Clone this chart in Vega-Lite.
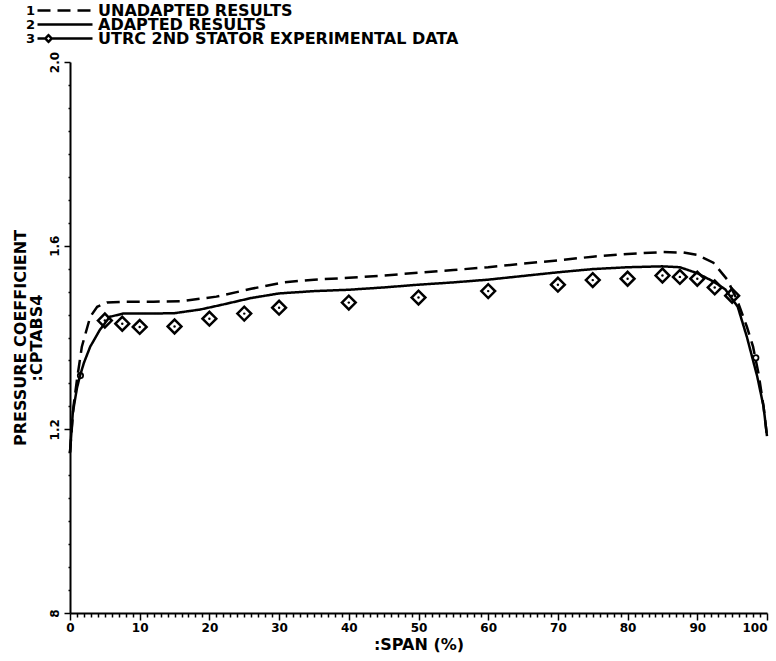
{
  "$schema": "https://vega.github.io/schema/vega-lite/v6.json",
  "width": 697,
  "height": 551,
  "autosize": "none",
  "padding": {"left": 70, "top": 62, "right": 9, "bottom": 48},
  "background": "white",
  "config": {
    "view": {"stroke": null},
    "font": "DejaVu Sans",
    "axis": {"grid": false, "domainColor": "black", "domainWidth": 2, "tickColor": "black", "tickWidth": 1.5, "labelColor": "black", "titleColor": "black", "labelFont": "DejaVu Sans", "titleFont": "DejaVu Sans", "labelFontWeight": "bold", "titleFontWeight": "bold"}
  },
  "data": {
    "values": [
      {"series": "ADAPTED RESULTS", "span": 0, "cp": 1.15},
      {"series": "ADAPTED RESULTS", "span": 0.4, "cp": 1.236},
      {"series": "ADAPTED RESULTS", "span": 1.0, "cp": 1.29},
      {"series": "ADAPTED RESULTS", "span": 1.4, "cp": 1.315},
      {"series": "ADAPTED RESULTS", "span": 2.0, "cp": 1.345},
      {"series": "ADAPTED RESULTS", "span": 2.9, "cp": 1.38},
      {"series": "ADAPTED RESULTS", "span": 4.3, "cp": 1.417},
      {"series": "ADAPTED RESULTS", "span": 5.7, "cp": 1.445},
      {"series": "ADAPTED RESULTS", "span": 7.6, "cp": 1.452},
      {"series": "ADAPTED RESULTS", "span": 11.5, "cp": 1.452},
      {"series": "ADAPTED RESULTS", "span": 15, "cp": 1.453},
      {"series": "ADAPTED RESULTS", "span": 18.7, "cp": 1.461},
      {"series": "ADAPTED RESULTS", "span": 22, "cp": 1.472},
      {"series": "ADAPTED RESULTS", "span": 26, "cp": 1.486},
      {"series": "ADAPTED RESULTS", "span": 30, "cp": 1.496},
      {"series": "ADAPTED RESULTS", "span": 35, "cp": 1.501},
      {"series": "ADAPTED RESULTS", "span": 40, "cp": 1.504},
      {"series": "ADAPTED RESULTS", "span": 45, "cp": 1.509},
      {"series": "ADAPTED RESULTS", "span": 50, "cp": 1.515},
      {"series": "ADAPTED RESULTS", "span": 55, "cp": 1.52},
      {"series": "ADAPTED RESULTS", "span": 60, "cp": 1.526},
      {"series": "ADAPTED RESULTS", "span": 65, "cp": 1.534},
      {"series": "ADAPTED RESULTS", "span": 70, "cp": 1.542},
      {"series": "ADAPTED RESULTS", "span": 75, "cp": 1.549},
      {"series": "ADAPTED RESULTS", "span": 80, "cp": 1.553},
      {"series": "ADAPTED RESULTS", "span": 85, "cp": 1.555},
      {"series": "ADAPTED RESULTS", "span": 87.5, "cp": 1.553},
      {"series": "ADAPTED RESULTS", "span": 90, "cp": 1.54},
      {"series": "ADAPTED RESULTS", "span": 92.3, "cp": 1.522},
      {"series": "ADAPTED RESULTS", "span": 94, "cp": 1.505},
      {"series": "ADAPTED RESULTS", "span": 95.8, "cp": 1.467},
      {"series": "ADAPTED RESULTS", "span": 97.1, "cp": 1.402},
      {"series": "ADAPTED RESULTS", "span": 98.6, "cp": 1.315},
      {"series": "ADAPTED RESULTS", "span": 99.5, "cp": 1.25},
      {"series": "ADAPTED RESULTS", "span": 100, "cp": 1.185},
      {"series": "UNADAPTED RESULTS", "span": 0, "cp": 1.15},
      {"series": "UNADAPTED RESULTS", "span": 0.5, "cp": 1.25},
      {"series": "UNADAPTED RESULTS", "span": 1.0, "cp": 1.308},
      {"series": "UNADAPTED RESULTS", "span": 1.7, "cp": 1.38},
      {"series": "UNADAPTED RESULTS", "span": 2.9, "cp": 1.445},
      {"series": "UNADAPTED RESULTS", "span": 3.9, "cp": 1.467},
      {"series": "UNADAPTED RESULTS", "span": 5.3, "cp": 1.476},
      {"series": "UNADAPTED RESULTS", "span": 8, "cp": 1.478},
      {"series": "UNADAPTED RESULTS", "span": 12, "cp": 1.478},
      {"series": "UNADAPTED RESULTS", "span": 16, "cp": 1.479},
      {"series": "UNADAPTED RESULTS", "span": 21, "cp": 1.489},
      {"series": "UNADAPTED RESULTS", "span": 26, "cp": 1.506},
      {"series": "UNADAPTED RESULTS", "span": 30.6, "cp": 1.52},
      {"series": "UNADAPTED RESULTS", "span": 35, "cp": 1.526},
      {"series": "UNADAPTED RESULTS", "span": 40, "cp": 1.53},
      {"series": "UNADAPTED RESULTS", "span": 45, "cp": 1.535},
      {"series": "UNADAPTED RESULTS", "span": 50, "cp": 1.541},
      {"series": "UNADAPTED RESULTS", "span": 55, "cp": 1.547},
      {"series": "UNADAPTED RESULTS", "span": 60, "cp": 1.553},
      {"series": "UNADAPTED RESULTS", "span": 65, "cp": 1.561},
      {"series": "UNADAPTED RESULTS", "span": 70, "cp": 1.568},
      {"series": "UNADAPTED RESULTS", "span": 75, "cp": 1.576},
      {"series": "UNADAPTED RESULTS", "span": 80, "cp": 1.582},
      {"series": "UNADAPTED RESULTS", "span": 85, "cp": 1.586},
      {"series": "UNADAPTED RESULTS", "span": 88, "cp": 1.585},
      {"series": "UNADAPTED RESULTS", "span": 90, "cp": 1.58},
      {"series": "UNADAPTED RESULTS", "span": 92.3, "cp": 1.563},
      {"series": "UNADAPTED RESULTS", "span": 94.3, "cp": 1.526},
      {"series": "UNADAPTED RESULTS", "span": 95.7, "cp": 1.482},
      {"series": "UNADAPTED RESULTS", "span": 97.1, "cp": 1.424},
      {"series": "UNADAPTED RESULTS", "span": 98, "cp": 1.38},
      {"series": "UNADAPTED RESULTS", "span": 98.8, "cp": 1.32},
      {"series": "UNADAPTED RESULTS", "span": 99.5, "cp": 1.25},
      {"series": "UNADAPTED RESULTS", "span": 100, "cp": 1.185},
      {"series": "UTRC 2ND STATOR EXPERIMENTAL DATA", "span": 1.5, "cp": 1.317},
      {"series": "UTRC 2ND STATOR EXPERIMENTAL DATA", "span": 5, "cp": 1.437},
      {"series": "UTRC 2ND STATOR EXPERIMENTAL DATA", "span": 7.5, "cp": 1.43},
      {"series": "UTRC 2ND STATOR EXPERIMENTAL DATA", "span": 10, "cp": 1.423},
      {"series": "UTRC 2ND STATOR EXPERIMENTAL DATA", "span": 15, "cp": 1.424},
      {"series": "UTRC 2ND STATOR EXPERIMENTAL DATA", "span": 20, "cp": 1.441},
      {"series": "UTRC 2ND STATOR EXPERIMENTAL DATA", "span": 25, "cp": 1.452},
      {"series": "UTRC 2ND STATOR EXPERIMENTAL DATA", "span": 30, "cp": 1.465},
      {"series": "UTRC 2ND STATOR EXPERIMENTAL DATA", "span": 40, "cp": 1.476},
      {"series": "UTRC 2ND STATOR EXPERIMENTAL DATA", "span": 50, "cp": 1.487},
      {"series": "UTRC 2ND STATOR EXPERIMENTAL DATA", "span": 60, "cp": 1.501},
      {"series": "UTRC 2ND STATOR EXPERIMENTAL DATA", "span": 70, "cp": 1.515},
      {"series": "UTRC 2ND STATOR EXPERIMENTAL DATA", "span": 75, "cp": 1.525},
      {"series": "UTRC 2ND STATOR EXPERIMENTAL DATA", "span": 80, "cp": 1.528},
      {"series": "UTRC 2ND STATOR EXPERIMENTAL DATA", "span": 85, "cp": 1.535},
      {"series": "UTRC 2ND STATOR EXPERIMENTAL DATA", "span": 87.5, "cp": 1.532},
      {"series": "UTRC 2ND STATOR EXPERIMENTAL DATA", "span": 90, "cp": 1.528},
      {"series": "UTRC 2ND STATOR EXPERIMENTAL DATA", "span": 92.5, "cp": 1.509},
      {"series": "UTRC 2ND STATOR EXPERIMENTAL DATA", "span": 95, "cp": 1.491},
      {"series": "UTRC 2ND STATOR EXPERIMENTAL DATA", "span": 98.4, "cp": 1.356}
    ]
  },
  "encoding": {
    "x": {
      "field": "span", "type": "quantitative",
      "scale": {"domain": [0, 100], "nice": false, "zero": false},
      "axis": {
        "values": [0,1,2,3,4,5,6,7,8,9,10,11,12,13,14,15,16,17,18,19,20,21,22,23,24,25,26,27,28,29,30,31,32,33,34,35,36,37,38,39,40,41,42,43,44,45,46,47,48,49,50,51,52,53,54,55,56,57,58,59,60,61,62,63,64,65,66,67,68,69,70,71,72,73,74,75,76,77,78,79,80,81,82,83,84,85,86,87,88,89,90,91,92,93,94,95,96,97,98,99,100],
        "labelExpr": "datum.value % 10 === 0 ? datum.label : ''",
        "tickSize": {"condition": {"test": "datum.value % 10 === 0", "value": 7}, "value": 4},
        "labelAlign": {"condition": {"test": "datum.value === 100", "value": "right"}, "value": "center"},
        "labelFontSize": 12,
        "labelPadding": 2,
        "labelOverlap": false,
        "labelFlush": false,
        "title": ":SPAN (%)",
        "titleFontSize": 16,
        "titlePadding": 3
      }
    },
    "y": {
      "field": "cp", "type": "quantitative",
      "scale": {"domain": [0.8, 2.0], "nice": false, "zero": false},
      "axis": {
        "values": [0.8,0.85,0.9,0.95,1.0,1.05,1.1,1.15,1.2,1.25,1.3,1.35,1.4,1.45,1.5,1.55,1.6,1.65,1.7,1.75,1.8,1.85,1.9,1.95,2.0],
        "labelExpr": "round(datum.value*100) % 40 === 0 ? (round(datum.value*100) === 80 ? '8' : format(datum.value, '.1f')) : ''",
        "tickSize": {"condition": {"test": "round(datum.value*100) % 40 === 0", "value": 6}, "value": 2},
        "labelAngle": 270,
        "labelFontSize": 12,
        "labelPadding": 3,
        "labelOverlap": false,
        "labelFlush": false,
        "title": ["PRESSURE COEFFICIENT", ":CPTABS4"],
        "titleFontSize": 16,
        "titleLineHeight": 16,
        "titlePadding": 4
      }
    }
  },
  "layer": [
    {
      "transform": [{"filter": "datum.series !== 'UTRC 2ND STATOR EXPERIMENTAL DATA'"}],
      "mark": {"type": "line", "color": "black", "strokeWidth": 2.5},
      "encoding": {
        "strokeDash": {
          "field": "series", "type": "nominal",
          "scale": {"domain": ["UNADAPTED RESULTS", "ADAPTED RESULTS", "UTRC 2ND STATOR EXPERIMENTAL DATA"], "range": [[13, 7], [1, 0], [1, 0]]},
          "legend": {
            "orient": "none",
            "legendX": -44,
            "legendY": -57,
            "padding": 0,
            "title": ["1", "2", "3"],
            "titleOrient": "left",
            "titleAnchor": "start",
            "titleFont": "DejaVu Sans",
            "titleFontWeight": "bold",
            "titleFontSize": 13,
            "titleLineHeight": 14,
            "titleBaseline": "top",
            "titleColor": "black",
            "titlePadding": 0,
            "labelFont": "DejaVu Sans",
            "labelFontWeight": "bold",
            "labelFontSize": 16,
            "labelColor": "black",
            "labelLimit": 600,
            "labelOffset": 4,
            "symbolSize": 3025,
            "symbolStrokeWidth": 2.5,
            "symbolStrokeColor": "black",
            "symbolFillColor": "transparent",
            "clipHeight": 11,
            "rowPadding": -8,
            "encode": {
              "symbols": {
                "update": {
                  "shape": {"signal": "datum.value === 'UTRC 2ND STATOR EXPERIMENTAL DATA' ? 'M-1,0H-0.72M-0.48,0H1M-0.6,-0.12L-0.48,0L-0.6,0.12L-0.72,0Z' : 'M-1,0H1'"}
                }
              }
            }
          }
        }
      }
    },
    {
      "transform": [{"filter": "datum.series === 'UTRC 2ND STATOR EXPERIMENTAL DATA' && datum.span > 2 && datum.span < 97"}],
      "mark": {"type": "point", "shape": "diamond", "filled": false, "color": "black", "strokeWidth": 2.5, "size": 190, "opacity": 1}
    },
    {
      "transform": [{"filter": "datum.series === 'UTRC 2ND STATOR EXPERIMENTAL DATA' && (datum.span < 2 || datum.span > 97)"}],
      "mark": {"type": "point", "shape": "circle", "filled": false, "color": "black", "strokeWidth": 1.8, "size": 28, "opacity": 1}
    },
    {
      "transform": [{"filter": "datum.series === 'UTRC 2ND STATOR EXPERIMENTAL DATA' && datum.span > 2 && datum.span < 97"}],
      "mark": {"type": "point", "shape": "circle", "filled": true, "color": "black", "size": 6, "opacity": 1}
    }
  ]
}
